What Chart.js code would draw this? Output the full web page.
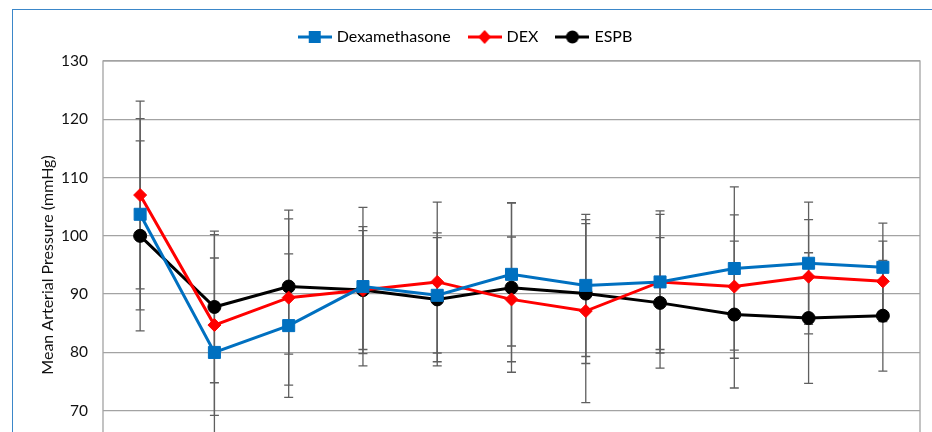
<!DOCTYPE html>
<html>
<head>
<meta charset="utf-8">
<script src="https://cdn.jsdelivr.net/npm/chart.js@4.4.1/dist/chart.umd.min.js"></script>
<style>
  html, body { margin: 0; padding: 0; background: #fff; overflow: hidden; width: 932px; height: 432px; }
  #frame { position: absolute; left: 12px; top: 9px; width: 1000px; height: 600px; border: 1.5px solid #3b87c9; }
  #chart { position: absolute; left: 0; top: 0; }
</style>
</head>
<body>
<div id="frame"></div>
<canvas id="chart" width="932" height="500"></canvas>
<script>
// time points (axis labels are below the visible area)
const labels = ['T0', 'T1', 'T2', 'T3', 'T4', 'T5', 'T6', 'T7', 'T8', 'T9', 'T10'];

const dexaMean = [103.7, 80.0, 84.6, 91.3, 89.8, 93.4, 91.5, 92.1, 94.4, 95.3, 94.6];
const dexaSd   = [16.4, 16.2, 12.3, 13.6, 9.9, 12.3, 12.2, 12.2, 14.0, 10.5, 7.6];

const dexMean  = [107.0, 84.7, 89.4, 90.7, 92.1, 89.1, 87.1, 92.1, 91.3, 93.0, 92.2];
const dexSd    = [16.1, 15.5, 15.0, 10.2, 13.7, 10.7, 15.7, 11.6, 12.3, 9.8, 6.9];

const espbMean = [100.0, 87.8, 91.3, 90.7, 89.1, 91.1, 90.1, 88.5, 86.5, 85.9, 86.3];
const espbSd   = [16.3, 13.0, 11.6, 10.9, 11.4, 14.5, 12.0, 11.2, 12.6, 11.2, 9.5];

const yTicks = [60, 70, 80, 90, 100, 110, 120, 130];

const gridColor = '#a3a3a3';
const errColor = '#5f5f5f';

// legend icon: short line with the marker in the middle
function legendIcon(color, shape) {
    const c = document.createElement('canvas');
    c.width = 34;
    c.height = 14;
    const g = c.getContext('2d');
    g.strokeStyle = color;
    g.fillStyle = color;
    g.lineWidth = 3;
    g.beginPath();
    g.moveTo(0, 7);
    g.lineTo(34, 7);
    g.stroke();
    g.beginPath();
    if (shape === 'rect') {
        g.rect(11, 1, 12, 12);
    } else if (shape === 'rectRot') {
        g.moveTo(17, 0); g.lineTo(23.5, 7); g.lineTo(17, 14); g.lineTo(10.5, 7); g.closePath();
    } else {
        g.arc(17, 7, 6.5, 0, Math.PI * 2);
    }
    g.fill();
    return c;
}

// error bars, drawn behind the lines and markers
const errorBars = {
    id: 'errorBars',
    beforeDatasetsDraw(chart) {
        const ctx = chart.ctx;
        const y = chart.scales.y;
        const area = chart.chartArea;
        ctx.save();
        ctx.beginPath();
        ctx.rect(area.left, area.top - 1, area.right - area.left, area.bottom - area.top + 2);
        ctx.clip();
        ctx.strokeStyle = errColor;
        ctx.lineWidth = 1.3;
        chart.data.datasets.forEach((ds, i) => {
            const meta = chart.getDatasetMeta(i);
            meta.data.forEach((pt, j) => {
                const top = y.getPixelForValue(ds.data[j] + ds.sd[j]);
                const bot = y.getPixelForValue(ds.data[j] - ds.sd[j]);
                ctx.beginPath();
                ctx.moveTo(pt.x, top); ctx.lineTo(pt.x, bot);
                ctx.moveTo(pt.x - 4.5, top); ctx.lineTo(pt.x + 4.5, top);
                ctx.moveTo(pt.x - 4.5, bot); ctx.lineTo(pt.x + 4.5, bot);
                ctx.stroke();
            });
        });
        ctx.restore();
    }
};

// plot area outline
const plotBorder = {
    id: 'plotBorder',
    beforeDatasetsDraw(chart) {
        const a = chart.chartArea;
        const ctx = chart.ctx;
        ctx.save();
        ctx.strokeStyle = gridColor;
        ctx.lineWidth = 1.3;
        ctx.strokeRect(a.left, a.top, a.right - a.left, a.bottom - a.top);
        ctx.restore();
    }
};

function series(label, mean, sd, color, shape, radius) {
    return {
        label: label,
        data: mean,
        sd: sd,
        borderColor: color,
        backgroundColor: color,
        borderWidth: 3,
        pointStyle: shape,
        pointRadius: radius,
        pointBorderWidth: 1,
        pointBackgroundColor: color,
        pointBorderColor: color,
        icon: legendIcon(color, shape),
        tension: 0
    };
}

new Chart(document.getElementById('chart'), {
    type: 'line',
    data: {
        labels: labels,
        datasets: [
            series('Dexamethasone', dexaMean, dexaSd, '#0070c0', 'rect', 8.5),
            series('DEX', dexMean, dexSd, '#ff0000', 'rectRot', 6.5),
            series('ESPB', espbMean, espbSd, '#000000', 'circle', 6.5)
        ]
    },
    options: {
        responsive: false,
        animation: false,
        layout: { padding: { top: 9, left: 13, right: 12, bottom: 1 } },
        plugins: {
            title: {
                display: true,
                text: '',
                weight: 500,
                font: { size: 5, lineHeight: 1 },
                padding: { top: 0, bottom: 1 }
            },
            legend: {
                position: 'top',
                labels: {
                    usePointStyle: true,
                    pointStyleWidth: 28,
                    padding: 20,
                    color: '#111',
                    font: { family: 'Lato', size: 16 },
                    generateLabels(chart) {
                        return chart.data.datasets.map((ds, i) => ({
                            text: ds.label,
                            pointStyle: ds.icon,
                            fillStyle: ds.borderColor,
                            strokeStyle: ds.borderColor,
                            lineWidth: 0,
                            hidden: false,
                            datasetIndex: i
                        }));
                    }
                }
            },
            tooltip: { enabled: false }
        },
        scales: {
            x: {
                type: 'category',
                offset: true,
                grid: { display: false },
                border: { display: false },
                ticks: { color: '#111', font: { family: 'Lato', size: 15 } },
                afterFit(scale) { scale.height = 30; }
            },
            y: {
                min: 60,
                max: 130,
                afterBuildTicks(scale) { scale.ticks = yTicks.map(v => ({ value: v })); },
                afterFit(scale) { scale.width = 90; },
                grid: { color: gridColor, lineWidth: 1.3, drawTicks: false },
                border: { display: false },
                ticks: { color: '#111', padding: 15, font: { family: 'Lato', size: 15.5 } },
                title: {
                    display: true,
                    text: 'Mean Arterial Pressure (mmHg)',
                    color: '#111',
                    font: { family: 'Lato', size: 16 },
                    padding: { top: 25, bottom: 0 }
                }
            }
        }
    },
    plugins: [plotBorder, errorBars]
});
</script>
</body>
</html>
